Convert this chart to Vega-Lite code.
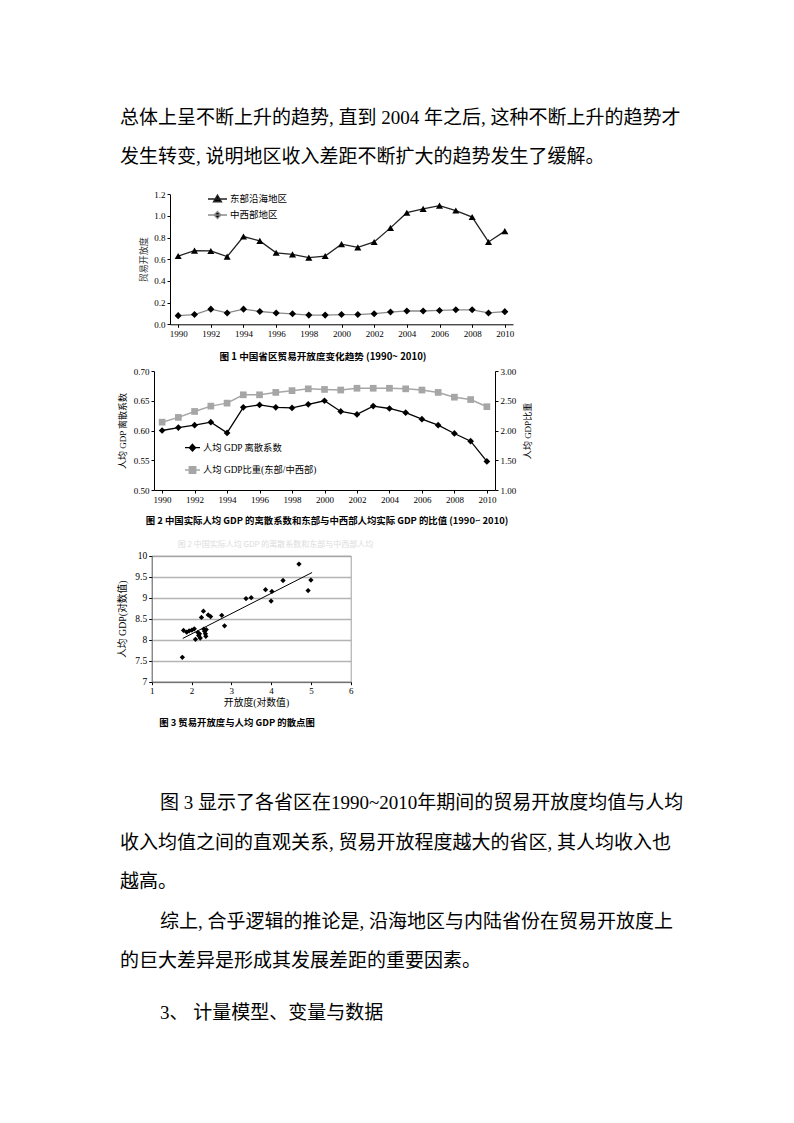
{
"$schema": "https://vega.github.io/schema/vega-lite/v6.json",
"width": 794, "height": 1123, "autosize": {"type": "none"}, "padding": 0,
"background": "#ffffff",
"config": {
  "view": {"stroke": null},
  "axis": {"labelFont": "Liberation Serif", "labelFontSize": 9, "labelColor": "#000", "titleFont": "Liberation Serif, Noto Sans CJK SC", "titleFontSize": 8.5, "titleFontWeight": "normal", "titleColor": "#000", "domainColor": "#000", "tickColor": "#000", "tickSize": 3, "labelPadding": 2, "grid": false, "labelOverlap": false, "labelFlush": false},
  "legend": {"labelFont": "Liberation Serif, Noto Sans CJK SC", "labelColor": "#000", "padding": 0}
},
"datasets": {
  "top_text": [
    {"line": 1, "indent": 0, "text": "总体上呈不断上升的趋势, 直到 2004 年之后, 这种不断上升的趋势才"},
    {"line": 2, "indent": 0, "text": "发生转变, 说明地区收入差距不断扩大的趋势发生了缓解。"}
  ],
  "bottom_text": [
    {"line": 1, "indent": 2, "text": "图 3 显示了各省区在1990~2010年期间的贸易开放度均值与人均"},
    {"line": 2, "indent": 0, "text": "收入均值之间的直观关系, 贸易开放程度越大的省区, 其人均收入也"},
    {"line": 3, "indent": 0, "text": "越高。"},
    {"line": 4, "indent": 2, "text": "综上, 合乎逻辑的推论是, 沿海地区与内陆省份在贸易开放度上"},
    {"line": 5, "indent": 0, "text": "的巨大差异是形成其发展差距的重要因素。"},
    {"line": 6, "indent": 2, "text": "3、 计量模型、变量与数据"}
  ],
  "chart1": [
    {"year": 1990, "region": "东部沿海地区", "value": 0.63},
    {"year": 1991, "region": "东部沿海地区", "value": 0.68},
    {"year": 1992, "region": "东部沿海地区", "value": 0.677},
    {"year": 1993, "region": "东部沿海地区", "value": 0.625},
    {"year": 1994, "region": "东部沿海地区", "value": 0.81},
    {"year": 1995, "region": "东部沿海地区", "value": 0.77},
    {"year": 1996, "region": "东部沿海地区", "value": 0.66},
    {"year": 1997, "region": "东部沿海地区", "value": 0.645},
    {"year": 1998, "region": "东部沿海地区", "value": 0.615},
    {"year": 1999, "region": "东部沿海地区", "value": 0.63},
    {"year": 2000, "region": "东部沿海地区", "value": 0.74},
    {"year": 2001, "region": "东部沿海地区", "value": 0.71},
    {"year": 2002, "region": "东部沿海地区", "value": 0.76},
    {"year": 2003, "region": "东部沿海地区", "value": 0.89},
    {"year": 2004, "region": "东部沿海地区", "value": 1.03},
    {"year": 2005, "region": "东部沿海地区", "value": 1.065},
    {"year": 2006, "region": "东部沿海地区", "value": 1.095},
    {"year": 2007, "region": "东部沿海地区", "value": 1.05},
    {"year": 2008, "region": "东部沿海地区", "value": 0.99},
    {"year": 2009, "region": "东部沿海地区", "value": 0.76},
    {"year": 2010, "region": "东部沿海地区", "value": 0.86},
    {"year": 1990, "region": "中西部地区", "value": 0.08},
    {"year": 1991, "region": "中西部地区", "value": 0.09},
    {"year": 1992, "region": "中西部地区", "value": 0.14},
    {"year": 1993, "region": "中西部地区", "value": 0.105},
    {"year": 1994, "region": "中西部地区", "value": 0.14},
    {"year": 1995, "region": "中西部地区", "value": 0.118},
    {"year": 1996, "region": "中西部地区", "value": 0.105},
    {"year": 1997, "region": "中西部地区", "value": 0.097},
    {"year": 1998, "region": "中西部地区", "value": 0.085},
    {"year": 1999, "region": "中西部地区", "value": 0.085},
    {"year": 2000, "region": "中西部地区", "value": 0.09},
    {"year": 2001, "region": "中西部地区", "value": 0.09},
    {"year": 2002, "region": "中西部地区", "value": 0.098},
    {"year": 2003, "region": "中西部地区", "value": 0.113},
    {"year": 2004, "region": "中西部地区", "value": 0.123},
    {"year": 2005, "region": "中西部地区", "value": 0.123},
    {"year": 2006, "region": "中西部地区", "value": 0.128},
    {"year": 2007, "region": "中西部地区", "value": 0.134},
    {"year": 2008, "region": "中西部地区", "value": 0.134},
    {"year": 2009, "region": "中西部地区", "value": 0.105},
    {"year": 2010, "region": "中西部地区", "value": 0.117}
  ],
  "chart2": [
    {"year": 1990, "disp": 0.600, "ratio": 2.14},
    {"year": 1991, "disp": 0.605, "ratio": 2.22},
    {"year": 1992, "disp": 0.609, "ratio": 2.32},
    {"year": 1993, "disp": 0.614, "ratio": 2.41},
    {"year": 1994, "disp": 0.596, "ratio": 2.46},
    {"year": 1995, "disp": 0.639, "ratio": 2.60},
    {"year": 1996, "disp": 0.643, "ratio": 2.60},
    {"year": 1997, "disp": 0.639, "ratio": 2.64},
    {"year": 1998, "disp": 0.638, "ratio": 2.67},
    {"year": 1999, "disp": 0.644, "ratio": 2.70},
    {"year": 2000, "disp": 0.650, "ratio": 2.69},
    {"year": 2001, "disp": 0.632, "ratio": 2.68},
    {"year": 2002, "disp": 0.627, "ratio": 2.71},
    {"year": 2003, "disp": 0.641, "ratio": 2.71},
    {"year": 2004, "disp": 0.637, "ratio": 2.71},
    {"year": 2005, "disp": 0.630, "ratio": 2.70},
    {"year": 2006, "disp": 0.619, "ratio": 2.68},
    {"year": 2007, "disp": 0.609, "ratio": 2.64},
    {"year": 2008, "disp": 0.595, "ratio": 2.56},
    {"year": 2009, "disp": 0.582, "ratio": 2.52},
    {"year": 2010, "disp": 0.548, "ratio": 2.40}
  ],
  "chart3": [
    {"open": 1.77, "gdp": 7.58}, {"open": 1.80, "gdp": 8.22}, {"open": 1.88, "gdp": 8.18},
    {"open": 1.94, "gdp": 8.21}, {"open": 2.01, "gdp": 8.23}, {"open": 2.07, "gdp": 8.26},
    {"open": 2.10, "gdp": 8.01}, {"open": 2.16, "gdp": 8.17}, {"open": 2.18, "gdp": 8.10},
    {"open": 2.22, "gdp": 8.04}, {"open": 2.20, "gdp": 8.14}, {"open": 2.25, "gdp": 8.53},
    {"open": 2.30, "gdp": 8.68}, {"open": 2.31, "gdp": 8.25}, {"open": 2.33, "gdp": 8.20},
    {"open": 2.35, "gdp": 8.14}, {"open": 2.36, "gdp": 8.08}, {"open": 2.37, "gdp": 8.24},
    {"open": 2.42, "gdp": 8.59}, {"open": 2.48, "gdp": 8.55}, {"open": 2.76, "gdp": 8.58},
    {"open": 2.83, "gdp": 8.33}, {"open": 3.37, "gdp": 8.98}, {"open": 3.50, "gdp": 9.00},
    {"open": 3.86, "gdp": 9.19}, {"open": 4.00, "gdp": 8.92}, {"open": 4.02, "gdp": 9.15},
    {"open": 4.30, "gdp": 9.41}, {"open": 4.70, "gdp": 9.80}, {"open": 4.93, "gdp": 9.17},
    {"open": 5.00, "gdp": 9.42}
  ],
  "chart3_fit": [
    {"open": 1.78, "gdp": 8.03},
    {"open": 5.03, "gdp": 9.60}
  ]
},
"layer": [
  {
    "data": {"name": "top_text"},
    "mark": {"type": "text", "align": "left", "baseline": "middle", "font": "Liberation Serif, Noto Sans CJK SC", "fontSize": 19, "color": "#000"},
    "encoding": {
      "x": {"field": "indent", "type": "quantitative", "scale": {"domain": [0, 2], "range": [120, 160], "nice": false, "zero": false}, "axis": null},
      "y": {"field": "line", "type": "quantitative", "scale": {"domain": [1, 2], "range": [118, 157], "nice": false, "zero": false}, "axis": null},
      "text": {"field": "text"}
    }
  },
  {
    "data": {"name": "chart1"},
    "encoding": {
      "x": {"field": "year", "type": "quantitative", "scale": {"domain": [1989.5, 2010.5], "range": [170, 513], "nice": false, "zero": false},
        "axis": {"orient": "bottom", "offset": -798.7, "values": [1990,1992,1994,1996,1998,2000,2002,2004,2006,2008,2010], "format": "d",
          "title": "图 1   中国省区贸易开放度变化趋势 (1990~ 2010)", "titleFont": "Noto Sans CJK SC", "titleFontWeight": "bold", "titleFontSize": 9.6, "titleX": 322.5, "titleY": 32, "titleAlign": "center", "titleBaseline": "middle"}},
      "y": {"field": "value", "type": "quantitative", "scale": {"domain": [0, 1.2], "range": [324.3, 194.3], "nice": false, "zero": false},
        "axis": {"orient": "left", "offset": -170, "values": [0, 0.2, 0.4, 0.6, 0.8, 1.0, 1.2], "format": ".1f",
          "title": "贸易开放度", "titleFont": "Noto Sans CJK SC", "titleFontSize": 9, "titleColor": "#333", "titleX": -27, "titleY": 259.3, "titleBaseline": "middle", "titleAlign": "center"}}
    },
    "layer": [
      {
        "mark": {"type": "line", "strokeWidth": 1.3},
        "encoding": {
          "stroke": {"field": "region", "type": "nominal",
            "scale": {"domain": ["东部沿海地区", "中西部地区"], "range": ["#222222", "#8a8a8a"]},
            "legend": {"orient": "none", "legendX": 207, "legendY": 188.5, "title": null, "symbolSize": 361, "symbolStrokeWidth": 1.3,
              "labelFont": "Noto Sans CJK SC", "labelFontSize": 9.5, "labelOffset": 2, "rowPadding": -11,
              "encode": {"symbols": {"update": {
                "shape": {"signal": "datum.value === '东部沿海地区' ? 'M-1,0H1M0,-0.42L0.42,0.3H-0.42Z' : 'M-1,0H1M0,-0.38L0.36,0L0,0.38L-0.36,0Z'"},
                "fill": {"value": "#000"}}}}}}
        }
      },
      {
        "transform": [{"filter": "datum.region === '东部沿海地区'"}],
        "mark": {"type": "point", "shape": "triangle-up", "filled": true, "size": 50, "color": "#000", "opacity": 1}
      },
      {
        "transform": [{"filter": "datum.region === '中西部地区'"}],
        "mark": {"type": "point", "shape": "diamond", "filled": true, "size": 50, "color": "#000", "opacity": 1}
      }
    ]
  },
  {
    "data": {"name": "chart2"},
    "encoding": {
      "x": {"field": "year", "type": "quantitative", "scale": {"domain": [1989.5, 2010.5], "range": [154, 495], "nice": false, "zero": false},
        "axis": {"orient": "bottom", "offset": -633, "values": [1990,1992,1994,1996,1998,2000,2002,2004,2006,2008,2010], "format": "d",
          "title": "图 2   中国实际人均 GDP 的离散系数和东部与中西部人均实际 GDP 的比值 (1990~ 2010)", "titleFont": "Noto Sans CJK SC", "titleFontWeight": "bold", "titleFontSize": 9.4, "titleX": 326.5, "titleY": 30, "titleAlign": "center", "titleBaseline": "middle"}},
      "y": {"field": "disp", "type": "quantitative", "scale": {"domain": [0.5, 0.7], "range": [490, 371], "nice": false, "zero": false},
        "axis": {"orient": "left", "offset": -154, "values": [0.5, 0.55, 0.6, 0.65, 0.7], "format": ".2f",
          "title": "人均 GDP 离散系数", "titleFontSize": 9, "titleX": -32, "titleY": 430.5, "titleBaseline": "middle", "titleAlign": "center"}}
    },
    "layer": [
      {
        "mark": {"type": "line", "strokeWidth": 1.3},
        "encoding": {
          "color": {"datum": "人均 GDP 离散系数", "scale": {"range": ["#000000"]},
            "legend": {"orient": "none", "legendX": 184, "legendY": 439.2, "title": null, "symbolSize": 225, "symbolStrokeWidth": 1.3,
              "symbolType": "M-1,0H1M0,-0.45L0.42,0L0,0.45L-0.42,0Z", "labelFontSize": 9.3, "labelOffset": 2,
              "encode": {"symbols": {"update": {"fill": {"value": "#000"}}}}}}
        }
      },
      {
        "mark": {"type": "point", "shape": "diamond", "filled": true, "size": 45, "color": "#000", "opacity": 1}
      }
    ]
  },
  {
    "data": {"name": "chart2"},
    "encoding": {
      "x": {"field": "year", "type": "quantitative", "scale": {"domain": [1989.5, 2010.5], "range": [154, 495], "nice": false, "zero": false},
        "axis": {"orient": "bottom", "offset": -633, "domain": false, "ticks": false, "labels": false,
          "title": "图 2   中国实际人均 GDP 的离散系数和东部与中西部人均", "titleFont": "Noto Sans CJK SC", "titleFontSize": 8, "titleColor": "#dcdcdc", "titleX": 275, "titleY": 54, "titleAlign": "center", "titleBaseline": "middle"}},
      "y": {"field": "ratio", "type": "quantitative", "scale": {"domain": [1, 3], "range": [490, 371], "nice": false, "zero": false},
        "axis": {"orient": "right", "offset": -299, "values": [1, 1.5, 2, 2.5, 3], "format": ".2f",
          "title": "人均 GDP比重", "titleFontSize": 9, "titleAngle": 270, "titleX": 32, "titleY": 430.5, "titleBaseline": "middle", "titleAlign": "center"}}
    },
    "layer": [
      {
        "mark": {"type": "line", "strokeWidth": 1.5},
        "encoding": {
          "color": {"datum": "人均 GDP比重(东部/中西部)", "scale": {"range": ["#a6a6a6"]},
            "legend": {"orient": "none", "legendX": 184, "legendY": 461.5, "title": null, "symbolSize": 225, "symbolStrokeWidth": 1.5,
              "symbolType": "M-1,0H1M-0.42,-0.42H0.42V0.42H-0.42Z", "labelFontSize": 9.3, "labelOffset": 2,
              "encode": {"symbols": {"update": {"fill": {"value": "#a6a6a6"}}}}}}
        }
      },
      {
        "mark": {"type": "point", "shape": "square", "filled": true, "size": 45, "color": "#a6a6a6", "opacity": 1}
      }
    ]
  },
  {
    "data": {"name": "chart3"},
    "mark": {"type": "point", "shape": "diamond", "filled": true, "size": 28, "color": "#000", "opacity": 1},
    "encoding": {
      "x": {"field": "open", "type": "quantitative", "scale": {"domain": [1, 6], "range": [151.7, 350.7], "nice": false, "zero": false},
        "axis": {"orient": "bottom", "offset": -441.3, "values": [1, 2, 3, 4, 5, 6], "format": "d", "domainColor": "#555",
          "title": "开放度(对数值)", "titleFontSize": 9.8, "titleX": 256, "titleY": 21, "titleAlign": "center", "titleBaseline": "middle"}},
      "y": {"field": "gdp", "type": "quantitative", "scale": {"domain": [7, 10], "range": [681.7, 555.7], "nice": false, "zero": false},
        "axis": {"orient": "left", "offset": -151.7, "values": [7, 7.5, 8, 8.5, 9, 9.5, 10], "format": "~g", "domainColor": "#555", "labelFontSize": 9.5,
          "grid": true, "gridColor": "#b4b4b4", "gridWidth": 1.5,
          "title": "人均 GDP(对数值)", "titleFontSize": 9.8, "titleX": -29.7, "titleY": 618.7, "titleBaseline": "middle", "titleAlign": "center"}}
    }
  },
  {
    "data": {"name": "chart3_fit"},
    "mark": {"type": "line", "color": "#000", "strokeWidth": 1},
    "encoding": {
      "x": {"field": "open", "type": "quantitative", "scale": {"domain": [1, 6], "range": [151.7, 350.7], "nice": false, "zero": false},
        "axis": {"orient": "top", "offset": -555.7, "labels": false, "ticks": false, "domainColor": "#a0a0a0",
          "title": "图 3   贸易开放度与人均 GDP 的散点图", "titleFont": "Noto Sans CJK SC", "titleFontWeight": "bold", "titleFontSize": 9.4, "titleX": 236.5, "titleY": 166.3, "titleAlign": "center", "titleBaseline": "middle"}},
      "y": {"field": "gdp", "type": "quantitative", "scale": {"domain": [7, 10], "range": [681.7, 555.7], "nice": false, "zero": false},
        "axis": {"orient": "right", "offset": -443.3, "labels": false, "ticks": false, "domainColor": "#a0a0a0", "title": null}}
    }
  },
  {
    "data": {"name": "bottom_text"},
    "encoding": {
      "x": {"field": "indent", "type": "quantitative", "scale": {"domain": [0, 2], "range": [120, 160], "nice": false, "zero": false}, "axis": null},
      "y": {"field": "line", "type": "quantitative", "scale": {"domain": [1, 5], "range": [803, 961], "nice": false, "zero": false}, "axis": null},
      "text": {"field": "text"}
    },
    "layer": [
      {
        "transform": [{"filter": "datum.line <= 5"}],
        "mark": {"type": "text", "align": "left", "baseline": "middle", "font": "Liberation Serif, Noto Sans CJK SC", "fontSize": 19, "color": "#000"}
      },
      {
        "transform": [{"filter": "datum.line == 6"}],
        "mark": {"type": "text", "align": "left", "baseline": "middle", "font": "Liberation Serif, Noto Sans CJK SC", "fontSize": 19, "color": "#000", "dy": 12}
      }
    ]
  }
],
"resolve": {
  "scale": {"x": "independent", "y": "independent", "color": "independent", "stroke": "independent", "shape": "independent"},
  "axis": {"x": "independent", "y": "independent"},
  "legend": {"color": "independent", "stroke": "independent", "shape": "independent"}
}
}
